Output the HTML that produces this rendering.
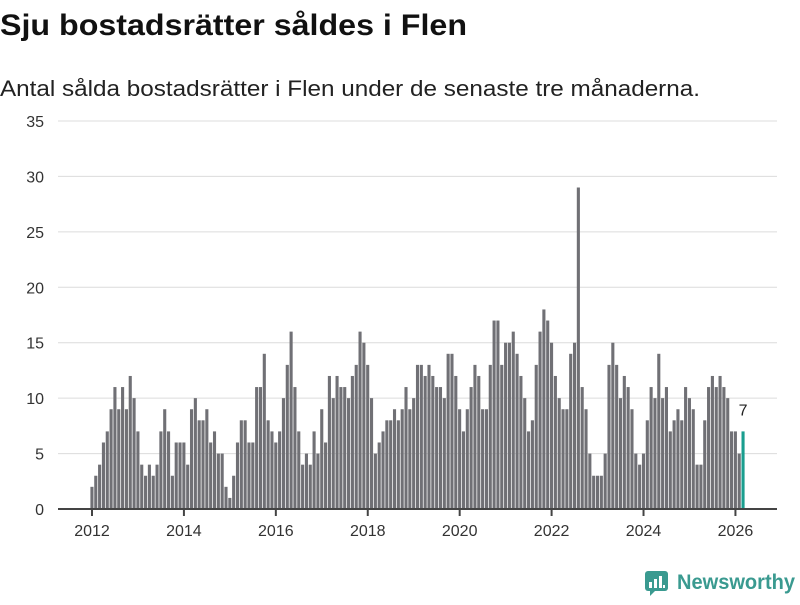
<!DOCTYPE html>
<html><head><meta charset="utf-8"><style>
body{margin:0;background:#fff;width:800px;height:600px;overflow:hidden;font-family:"Liberation Sans",sans-serif}
</style></head><body>
<svg width="800" height="600" xmlns="http://www.w3.org/2000/svg">
<text x="0" y="35" font-size="30" font-weight="bold" fill="#111" textLength="467" lengthAdjust="spacingAndGlyphs">Sju bostadsrätter såldes i Flen</text>
<text x="0" y="96" font-size="22" fill="#222" textLength="700" lengthAdjust="spacingAndGlyphs">Antal sålda bostadsrätter i Flen under de senaste tre månaderna.</text>
<g id="grid"></g><g id="bars"></g><g id="xaxis"></g>
<g>
<rect x="645" y="571" width="23" height="20" rx="3" fill="#3a9a90"/>
<polygon points="650,590 656,590 650,596" fill="#3a9a90"/>
<rect x="649" y="582" width="3" height="6" fill="#fff"/><rect x="654" y="579" width="3" height="9" fill="#fff"/><rect x="659" y="576" width="3" height="12" fill="#fff"/><rect x="663" y="585" width="2" height="3" fill="#fff"/>
<text x="677" y="589" font-size="21" font-weight="bold" fill="#3a9a90" textLength="118" lengthAdjust="spacingAndGlyphs">Newsworthy</text>
</g>
</svg>
<script>
const startYear = 2012;
const values = [2,3,4,6,7,9,11,9,11,9,12,10,
7,4,3,4,3,4,7,9,7,3,6,6,
6,4,9,10,8,8,9,6,7,5,5,2,
1,3,6,8,8,6,6,11,11,14,8,7,
6,7,10,13,16,11,7,4,5,4,7,5,
9,6,12,10,12,11,11,10,12,13,16,15,
13,10,5,6,7,8,8,9,8,9,11,9,
10,13,13,12,13,12,11,11,10,14,14,12,
9,7,9,11,13,12,9,9,13,17,17,13,
15,15,16,14,12,10,7,8,13,16,18,17,
15,12,10,9,9,14,15,29,11,9,5,3,
3,3,5,13,15,13,10,12,11,9,5,4,
5,8,11,10,14,10,11,7,8,9,8,11,
10,9,4,4,8,11,12,11,12,11,10,7,
7,5,7];
const yTicks = [0,5,10,15,20,25,30,35];
const xTickYears = [2012,2014,2016,2018,2020,2022,2024,2026];
const NS='http://www.w3.org/2000/svg';
const x = i => 92 + i*3.83;
const y = v => 509 - v*11.086;
function mk(tag, attrs, parent){const e=document.createElementNS(NS,tag);for(const k in attrs)e.setAttribute(k,attrs[k]);parent.appendChild(e);return e;}
const grid=document.getElementById('grid'),bars=document.getElementById('bars'),xa=document.getElementById('xaxis');
yTicks.forEach(t=>{
  if(t>0){const l=mk('line',{x1:58,x2:777,y1:y(t),y2:y(t),stroke:'#dcdcdc','stroke-width':1},grid);
  
  }
  const tx=mk('text',{x:44,y:y(t)+6,'text-anchor':'end','font-size':16,fill:'#333'},grid);
  tx.textContent=t;
  
  
});
values.forEach((v,i)=>{
  const last=i===values.length-1;
  const r=mk('rect',{x:x(i)-1.6,y:y(v),width:3.1,height:509-y(v),fill:last?'#1a9e8f':'#707075'},bars);
  
  
  if(last){const t=mk('text',{x:x(i),y:y(v)-16,'text-anchor':'middle','font-size':16,fill:'#222'},bars);t.textContent=v;
  
  }
});
const ax=mk('line',{x1:58,x2:777,y1:509,y2:509,stroke:'#444','stroke-width':2},xa);


xTickYears.forEach(yr=>{
  const xi=x((yr-startYear)*12);
  const tk=mk('line',{x1:xi,x2:xi,y1:509,y2:516,stroke:'#444','stroke-width':2},xa);
  
  
  const t=mk('text',{x:xi,y:536,'text-anchor':'middle','font-size':16,fill:'#333'},xa);
  t.textContent=yr;
  
  
});
</script>
</body></html>
